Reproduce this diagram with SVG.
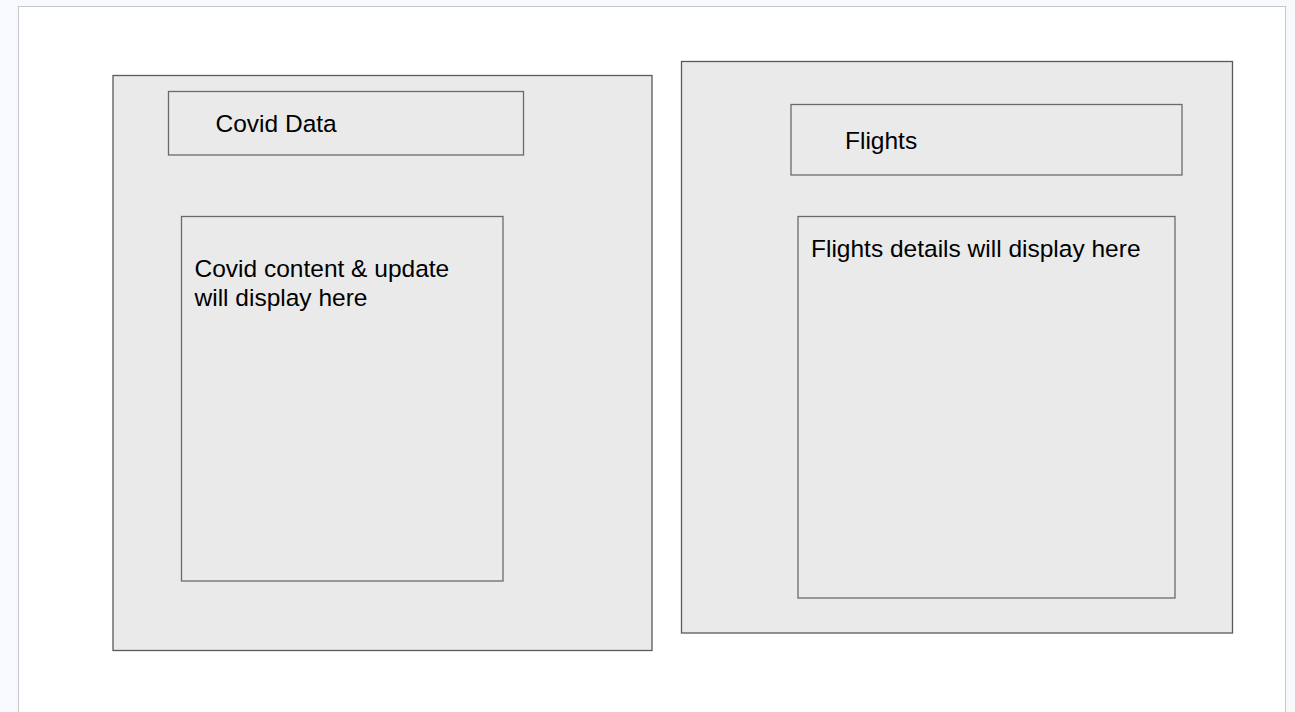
<svg xmlns="http://www.w3.org/2000/svg" width="1295" height="712" viewBox="0 0 1295 712">
<style>
.box{fill:#eaeaea;stroke:#595959;stroke-width:1.3}
.inner{fill:#eaeaea;stroke:#6a6a6a;stroke-width:1.3}
.t{font-family:"Liberation Sans",Arial,sans-serif;font-size:24.5px;fill:#000}
</style>
<rect x="0" y="0" width="1295" height="712" fill="#f8f9fd"/>
<rect x="18.5" y="6.5" width="1267" height="720" fill="#ffffff" stroke="#c3c7cc" stroke-width="1"/>
<g id="covid-panel">
<rect class="box" x="113" y="75.5" width="539" height="575"/>
</g>
<g id="covid-header">
<rect class="inner" x="168.5" y="91.5" width="355" height="63.5"/>
<text class="t" x="215.5" y="132">Covid Data</text>
</g>
<g id="covid-content">
<rect class="inner" x="181.5" y="216.5" width="321.5" height="364.5"/>
<text class="t" x="194.5" y="277">Covid content &amp; update</text>
<text class="t" x="194.5" y="306">will display here</text>
</g>
<g id="flights-panel">
<rect class="box" x="681.5" y="61.5" width="551" height="571.5"/>
</g>
<g id="flights-header">
<rect class="inner" x="791" y="104.5" width="391" height="70.5"/>
<text class="t" x="845" y="149">Flights</text>
</g>
<g id="flights-content">
<rect class="inner" x="798" y="216.5" width="377" height="381.5"/>
<text class="t" x="811" y="257">Flights details will display here</text>
</g>
<g id="connectors"></g>
</svg>
